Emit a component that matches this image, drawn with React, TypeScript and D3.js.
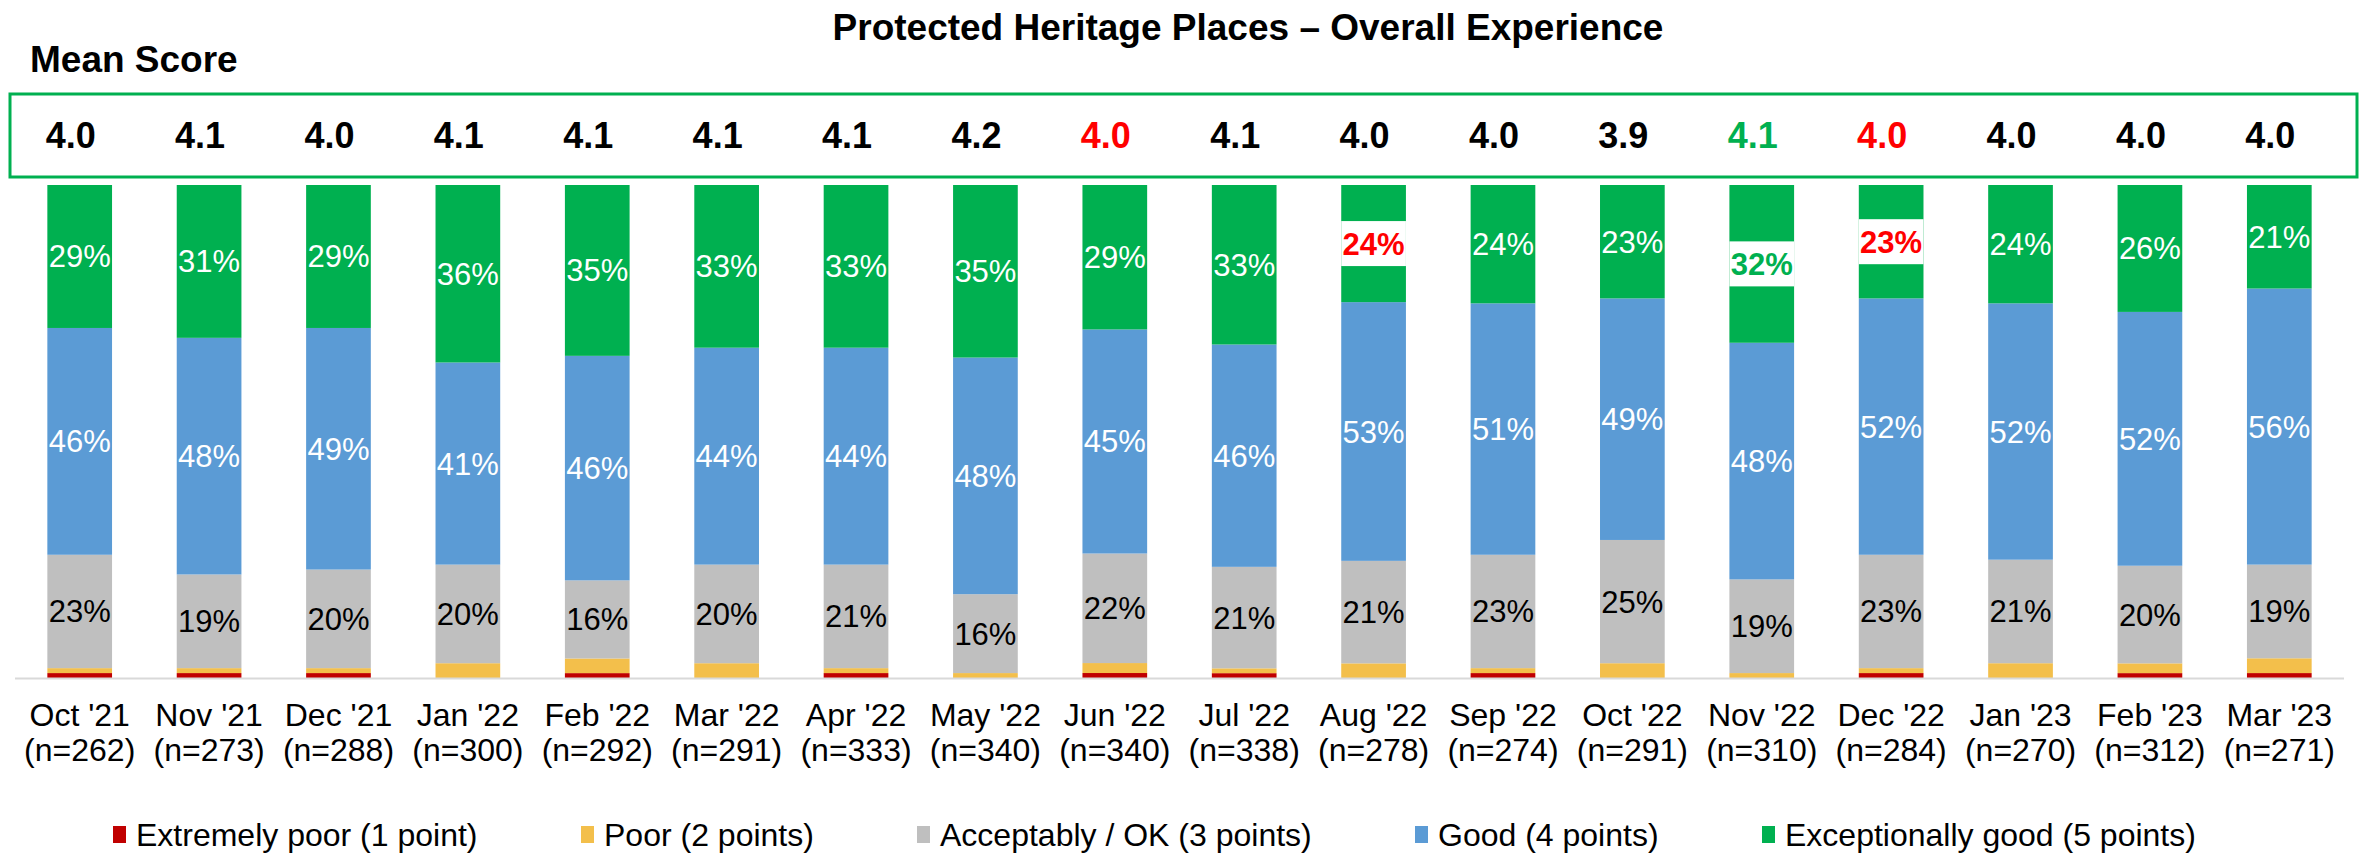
import React from "react";
import * as d3 from "d3";

const categories = ["Oct '21","Nov '21","Dec '21","Jan '22","Feb '22","Mar '22","Apr '22","May '22","Jun '22","Jul '22","Aug '22","Sep '22","Oct '22","Nov '22","Dec '22","Jan '23","Feb '23","Mar '23"];
const sampleSizes = [262,273,288,300,292,291,333,340,340,338,278,274,291,310,284,270,312,271];
const meanScores = [4.0,4.1,4.0,4.1,4.1,4.1,4.1,4.2,4.0,4.1,4.0,4.0,3.9,4.1,4.0,4.0,4.0,4.0];
const extremelyPoor = [1,1,1,0,1,0,1,0,1,1,0,1,0,0,1,0,1,1];
const poor = [1,1,1,3,3,3,1,1,2,1,3,1,3,1,1,3,2,3];
const acceptable = [23,19,20,20,16,20,21,16,22,21,21,23,25,19,23,21,20,19];
const good = [46,48,49,41,46,44,44,48,45,46,53,51,49,48,52,52,52,56];
const exceptional = [29,31,29,36,35,33,33,35,29,33,24,24,23,32,23,24,26,21];
// highlight flags: 0 = none, 1 = significantly lower (red), 2 = significantly higher (green)
const meanFlags = [0,0,0,0,0,0,0,0,1,0,0,0,0,2,1,0,0,0];
const topFlags = [0,0,0,0,0,0,0,0,0,0,1,0,0,2,1,0,0,0];

const seriesKeys = ["ep", "p", "ok", "g", "eg"];
const seriesNames = ["Extremely poor (1 point)", "Poor (2 points)", "Acceptably / OK (3 points)", "Good (4 points)", "Exceptionally good (5 points)"];
const seriesColors = ["#C00000", "#F3BF4B", "#BFBFBF", "#5B9BD5", "#00B050"];
const labelColors = [null, null, "#000000", "#FFFFFF", "#FFFFFF"];
const flagColors = ["#000000", "#FF0000", "#00B050"];

const W = 2366, H = 857;
const FONT = "'Liberation Sans', Arial, sans-serif";

export default function App() {
  const rows = categories.map((c, i) => ({
    cat: c,
    ep: extremelyPoor[i], p: poor[i], ok: acceptable[i], g: good[i], eg: exceptional[i],
  }));
  const stack = d3.stack<any>().keys(seriesKeys).offset(d3.stackOffsetExpand);
  const layers = stack(rows);

  const x = d3.scaleBand<string>().domain(categories).range([15, 2344]).paddingInner(0.5).paddingOuter(0.25);
  const y = d3.scaleLinear().domain([0, 1]).range([678, 185]);
  const bw = x.bandwidth();

  const legendX = [113, 581, 917, 1415, 1762];

  return (
    <svg width={W} height={H} style={{ position: "absolute", left: 0, top: 0 }} fontFamily={FONT}>
      <rect x={0} y={0} width={W} height={H} fill="#FFFFFF" />
      <text x={1248} y={40} textAnchor="middle" fontSize={37} fontWeight="bold" fill="#000">
        Protected Heritage Places – Overall Experience
      </text>
      <text x={30} y={72} fontSize={37} fontWeight="bold" fill="#000">Mean Score</text>
      <rect x={10} y={94} width={2347} height={83} fill="none" stroke="#00B050" strokeWidth={3} />
      {meanScores.map((m, i) => (
        <text key={"m" + i} x={(x(categories[i]) as number) + bw / 2 - 9} y={148} textAnchor="middle"
          fontSize={36} fontWeight="bold" fill={flagColors[meanFlags[i]]}>{m.toFixed(1)}</text>
      ))}

      {layers.map((layer, li) => (
        <g key={"l" + li} fill={seriesColors[li]}>
          {layer.map((d, i) => (
            <rect key={i} x={x(categories[i])} y={y(d[1])} width={bw} height={Math.max(0, y(d[0]) - y(d[1]))} />
          ))}
        </g>
      ))}

      {layers.map((layer, li) => labelColors[li] === null ? null : (
        <g key={"t" + li}>
          {layer.map((d, i) => {
            const cx = (x(categories[i]) as number) + bw / 2;
            const cy = (y(d[0]) + y(d[1])) / 2;
            const v = (rows[i] as any)[seriesKeys[li]];
            const flag = li === 4 ? topFlags[i] : 0;
            if (flag) {
              return (
                <g key={i}>
                  <rect x={cx - bw / 2} y={cy - 22.5} width={bw} height={45} fill="#FFFFFF" />
                  <text x={cx} y={cy + 11} textAnchor="middle" fontSize={31} fontWeight="bold" fill={flagColors[flag]}>{v}%</text>
                </g>
              );
            }
            return (
              <text key={i} x={cx} y={cy + 11} textAnchor="middle" fontSize={31} fill={labelColors[li] as string}>{v}%</text>
            );
          })}
        </g>
      ))}

      <line x1={15} x2={2344} y1={678.5} y2={678.5} stroke="#D9D9D9" strokeWidth={2} />

      {categories.map((c, i) => {
        const cx = (x(c) as number) + bw / 2;
        return (
          <g key={"x" + i}>
            <text x={cx} y={726} textAnchor="middle" fontSize={32} fill="#000">{c}</text>
            <text x={cx} y={761} textAnchor="middle" fontSize={32} fill="#000">(n={sampleSizes[i]})</text>
          </g>
        );
      })}

      {seriesNames.map((n, i) => (
        <g key={"lg" + i}>
          <rect x={legendX[i]} y={826} width={13} height={17} fill={seriesColors[i]} />
          <text x={legendX[i] + 23} y={846} fontSize={32} fill="#000">{n}</text>
        </g>
      ))}
    </svg>
  );
}
